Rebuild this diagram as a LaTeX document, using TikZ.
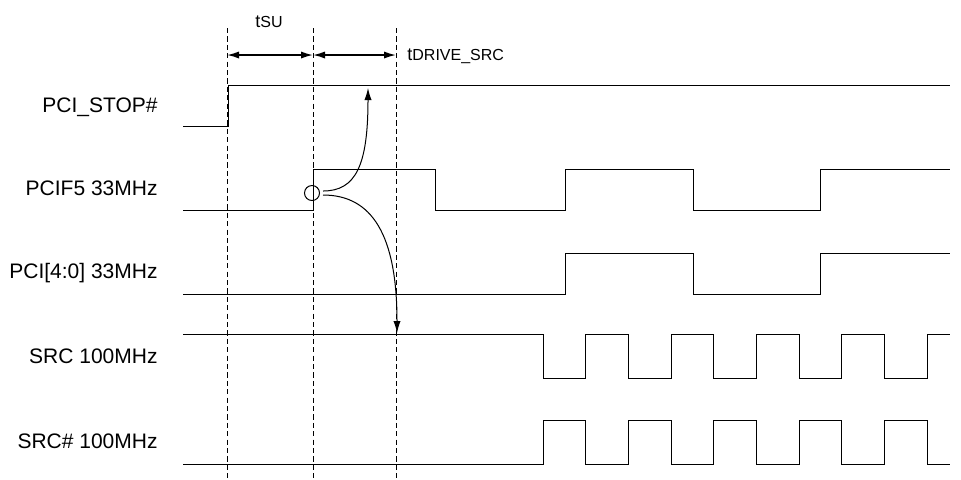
\documentclass[tikz,border=0pt]{standalone}
\usepackage{fontspec}
\setmainfont{Liberation Sans}
\usetikzlibrary{arrows.meta,positioning}

\begin{document}
\begin{tikzpicture}[
  x=0.5pt,y=-0.5pt,
  sig/.style={line width=0.5pt},
  guide/.style={dashed,line width=0.4pt,dash pattern=on 2.6pt off 1.6pt},
  lbl/.style={anchor=base east,inner sep=0pt,font=\fontsize{10.5}{12}\selectfont},
  tlbl/.style={anchor=base west,inner sep=0pt,font=\fontsize{9}{11}\selectfont},
  dim/.style={{Latex[length=6pt,width=3.6pt]}-{Latex[length=6pt,width=3.6pt]},line width=0.8pt},
  curv/.style={-{Latex[length=6pt,width=3.6pt]},line width=0.5pt}
]
\useasboundingbox (0,0) rectangle (961,479);
% guides
\foreach \gx in {227,313,396} \draw[guide] (\gx,28) -- (\gx,479);
\coordinate (g1) at (227,55); \coordinate (g2) at (313,55); \coordinate (g3) at (396,55);
\draw[dim] (g1) -- (g2); \draw[dim] (g2) -- (g3);
\node[tlbl] (tsu) at (255,27) {t{\fontsize{8}{9}\selectfont SU}};
\node[tlbl] (tdrv) at (407,60) {t{\fontsize{8}{9}\selectfont DRIVE\_SRC}};
% signal names
\node[lbl] (stop) at (158,112) {PCI\_STOP\#};
\node[lbl] (pcif) at (158,195) {PCIF5 33MHz};
\node[lbl] (pci) at (158,278) {PCI[4:0] 33MHz};
\node[lbl] (src) at (158,363) {SRC 100MHz};
\node[lbl] (srcn) at (158,448) {SRC\# 100MHz};
% waveforms
\draw[sig] (183,126) -- (228,126) -- (228,85) -- (950,85);
\draw[sig] (183,210) -- (313,210) -- (313,169) -- (435,169) -- (435,210) -- (565,210)
  -- (565,169) -- (693,169) -- (693,210) -- (820,210) -- (820,169) -- (950,169);
\draw[sig] (183,294) -- (565,294) -- (565,253) -- (693,253) -- (693,294) -- (820,294)
  -- (820,253) -- (950,253);
\draw[sig] (183,334) -- (543,334) \foreach \i in {1,...,4}{ -- ++(0,44) -- ++(42.7,0) -- ++(0,-44) -- ++(42.7,0)}
  -- ++(0,44) -- ++(42.7,0) -- ++(0,-44) -- (950,334);
\draw[sig] (183,464) -- (543,464) \foreach \i in {1,...,4}{ -- ++(0,-44) -- ++(42.7,0) -- ++(0,44) -- ++(42.7,0)}
  -- ++(0,-44) -- ++(42.7,0) -- ++(0,44) -- (950,464);
% cause and effect
\node[circle,draw,line width=0.5pt,minimum size=7.5pt,inner sep=0pt] (edge) at (312,193) {};
\coordinate (stopTip) at (368,88);
\coordinate (srcTip) at (397,333);
\draw[curv] (323,191) .. controls (356,191) and (368,165) .. (stopTip);
\draw[curv] (323,195) .. controls (372,195) and (397,235) .. (srcTip);
\end{tikzpicture}
\end{document}
